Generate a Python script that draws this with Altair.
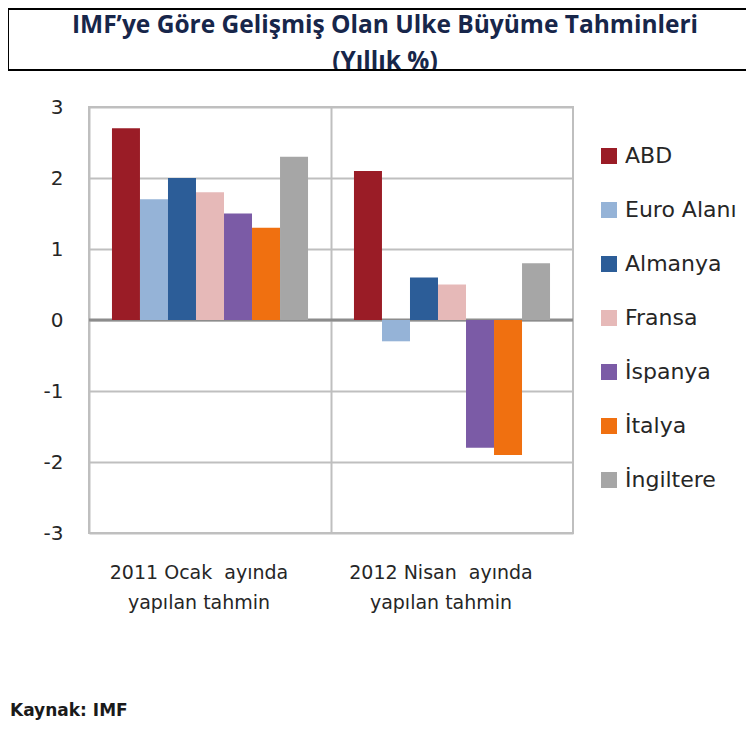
import altair as alt
import pandas as pd

categories = ["2011 Ocak\u00a0 ayında|yapılan tahmin", "2012 Nisan\u00a0 ayında|yapılan tahmin"]
series = ["ABD", "Euro Alanı", "Almanya", "Fransa", "İspanya", "İtalya", "İngiltere"]
values_2011 = [2.7, 1.7, 2.0, 1.8, 1.5, 1.3, 2.3]
values_2012 = [2.1, -0.3, 0.6, 0.5, -1.8, -1.9, 0.8]
colors = ["#9A1C26", "#95B3D7", "#2C5D98", "#E6B9B8", "#7B5BA6", "#F07010", "#A6A6A6"]
title_lines = ["IMF’ye Göre Gelişmiş Olan Ulke Büyüme Tahminleri", "(Yıllık %)"]
source_text = "Kaynak: IMF"

rows = []
for s, v in zip(series, values_2011):
    rows.append({"kategori": categories[0], "ulke": s, "deger": v})
for s, v in zip(series, values_2012):
    rows.append({"kategori": categories[1], "ulke": s, "deger": v})
df = pd.DataFrame(rows)

W, H = 484, 426
FONT = "DejaVu Sans"

base = alt.Chart(df)

x_enc = alt.X("kategori:N", sort=categories, title=None,
              scale=alt.Scale(paddingInner=0, paddingOuter=0),
              axis=alt.Axis(labelExpr="split(datum.label, '|')", labelAngle=0,
                            labelFont=FONT, labelFontSize=19, labelColor="#262626",
                            labelLineHeight=30, labelPadding=30, labelBaseline="top",
                            labelLimit=400,
                            ticks=False, domain=False, grid=True, bandPosition=0,
                            gridColor="#BFBFBF", gridWidth=2, labelOffset=-11))
y_enc = alt.Y("deger:Q", title=None,
              scale=alt.Scale(domain=[-3, 3], nice=False),
              axis=alt.Axis(values=[-3, -2, -1, 0, 1, 2, 3], labelExpr="'' + datum.value",
                            labelFont=FONT, labelFontSize=20,
                            labelColor="#262626", ticks=False, domain=False, grid=True,
                            gridColor="#BFBFBF", gridWidth=2, labelPadding=26))

bars = base.mark_bar(size=28).encode(
    x=x_enc,
    y=y_enc,
    xOffset=alt.XOffset("ulke:N", sort=series,
                        scale=alt.Scale(domain=series, paddingInner=0, paddingOuter=0.82)),
    color=alt.Color("ulke:N", sort=series,
                    scale=alt.Scale(domain=series, range=colors),
                    legend=alt.Legend(title=None, orient="none", legendX=509, legendY=38,
                                      symbolType="square", symbolSize=256, symbolStrokeWidth=0,
                                      labelFont=FONT, labelFontSize=22, labelColor="#262626",
                                      labelOffset=5, rowPadding=32, padding=0)),
)

zero = alt.Chart(pd.DataFrame({"z": [0]})).mark_rule(color="#8C8C8C", strokeWidth=3).encode(
    y=alt.Y("z:Q")
)

title_bg = alt.Chart(pd.DataFrame({"a": [0]})).mark_rect(fill="white", stroke="black", strokeWidth=2).encode(
    x=alt.value(-81), x2=alt.value(720), y=alt.value(-98), y2=alt.value(-37)
)
title1 = alt.Chart(pd.DataFrame({"t": [title_lines[0]]})).mark_text(
    font="Open Sans", fontWeight="bold", fontSize=24.5, color="#17264A", align="center", baseline="alphabetic"
).encode(text="t:N", x=alt.value(296), y=alt.value(-74))
title2 = alt.Chart(pd.DataFrame({"t": [title_lines[1]]})).mark_text(
    font="Open Sans", fontWeight="bold", fontSize=24.5, color="#17264A", align="center", baseline="alphabetic"
).encode(text="t:N", x=alt.value(296), y=alt.value(-38))
cover = alt.Chart(pd.DataFrame({"a": [0]})).mark_rect(fill="white").encode(
    x=alt.value(-81), x2=alt.value(720), y=alt.value(-36), y2=alt.value(-26)
)
title_border = alt.Chart(pd.DataFrame({"a": [0]})).mark_rect(fill=None, stroke="black", strokeWidth=2, filled=False).encode(
    x=alt.value(-81), x2=alt.value(720), y=alt.value(-98), y2=alt.value(-37)
)
source = alt.Chart(pd.DataFrame({"t": [source_text]})).mark_text(
    font=FONT, fontWeight="bold", fontSize=17, color="#1a1a1a", align="left", baseline="middle"
).encode(text="t:N", x=alt.value(-79), y=alt.value(604))

chart = alt.layer(zero, bars, title_bg, title1, title2, cover, title_border, source).properties(
    width=W, height=H,
    autosize=alt.AutoSizeParams(type="none"),
    padding={"left": 81, "top": 99, "right": 173, "bottom": 195},
).configure_view(stroke="#BFBFBF", strokeWidth=2)

chart.save("out.html", embed_options={"renderer": "svg", "actions": False})
